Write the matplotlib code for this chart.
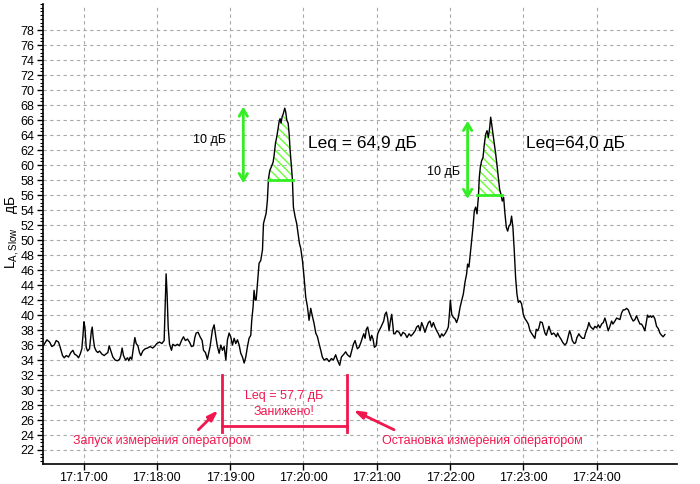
import numpy as np
import matplotlib
matplotlib.use('Agg')
import matplotlib.pyplot as plt
from matplotlib.ticker import FuncFormatter, MultipleLocator

plt.rcParams['font.family'] = ['Liberation Sans', 'DejaVu Sans']
plt.rcParams['hatch.linewidth'] = 1.0

# time in seconds after 17:17:00, level in dB
t_sec = [
    -35.5, -34.1, -32.2, -30.0, -27.8, -25.9, -24.0, -22.4, -20.5, -19.1,
    -17.2, -15.8, -14.2, -12.3, -10.4, -8.7, -7.4, -5.5, -4.1, -2.7,
    -1.4, -0.5, 0.3, 1.1, 2.2, 3.3, 4.9, 6.3, 7.1, 7.9,
    9.0, 10.4, 11.7, 13.1, 15.0, 16.9, 18.3, 19.9, 21.0, 22.4,
    24.0, 25.9, 27.8, 29.5, 30.5, 31.6, 32.7, 34.4, 36.0, 37.1,
    38.2, 39.5, 40.9, 42.0, 43.1, 44.5, 45.8, 46.9, 48.5, 50.4,
    52.4, 54.5, 56.7, 58.6, 60.0, 62.2, 64.1, 66.0, 66.8, 67.6,
    68.4, 69.3, 70.4, 72.0, 73.1, 75.0, 76.9, 78.5, 80.2, 81.8,
    83.4, 85.1, 86.7, 88.4, 90.0, 91.1, 92.2, 93.8, 95.4, 97.1,
    98.2, 99.8, 101.4,
    103.6, 105.5, 106.9, 108.3, 109.6, 111.0, 112.4, 113.7, 115.1, 116.5,
    117.8, 119.2, 120.5, 121.9, 123.3, 124.6, 126.0, 127.4, 128.7, 130.1,
    131.5, 132.8, 134.2, 135.5, 136.9, 137.7, 138.8, 139.6, 140.5, 141.3,
    142.4, 143.7, 145.1, 146.5, 147.3, 148.4, 149.5, 150.5, 151.4, 152.5,
    153.8, 155.2, 156.0, 157.1, 158.2, 159.3, 160.1, 160.9, 161.7, 162.5,
    163.6, 164.7, 165.5, 166.4, 167.5, 168.3, 169.1, 170.2, 171.0, 171.8,
    173.2, 174.5, 175.6, 176.7, 177.8, 179.2, 180.5, 181.9, 183.3, 184.6,
    186.0, 187.4, 188.7, 190.1, 191.5, 192.8, 194.2, 195.5, 196.9, 199.1,
    201.0, 202.9, 204.5, 206.4, 207.8, 209.7, 211.1, 212.7, 214.6, 216.0,
    218.2,
    220.9, 222.3, 223.4, 224.2, 225.5, 227.2, 228.3, 229.4, 230.5, 231.5,
    232.6, 233.7, 234.8, 235.9, 237.0, 238.1, 239.5, 240.8, 241.9, 243.5,
    244.6, 245.7, 246.8, 247.9, 249.0, 250.1, 251.2, 252.3, 253.1, 253.9,
    255.0, 256.4, 258.3, 259.9, 261.5, 263.2, 264.8, 266.5, 268.1, 269.7,
    271.4, 272.7, 274.1, 275.5, 276.8, 278.2, 279.5, 280.9, 282.3, 283.6,
    285.0, 286.4, 287.7, 289.1, 290.5, 291.8, 293.2, 294.5, 295.9, 297.3,
    298.6, 299.5, 300.3, 301.4, 302.7, 304.1, 305.4, 306.8, 308.2, 309.5,
    310.9, 312.3, 313.6, 314.4, 315.5, 316.6, 317.7, 318.8, 319.9, 321.0,
    322.1, 323.2, 324.0, 324.8, 325.9, 327.0, 328.1, 329.2, 330.3, 331.4,
    332.5, 333.3, 334.1, 335.2, 336.3, 337.4, 338.4, 339.5, 340.6, 341.7,
    342.8, 343.9, 345.0, 346.1, 347.2, 348.3, 349.4, 350.4, 351.5, 352.6,
    353.7, 354.8, 355.9, 357.3, 358.6, 360.0, 361.4, 362.7, 364.1, 365.5,
    368.2, 369.5, 370.6, 371.7, 372.8, 373.9, 375.5, 376.6, 377.7, 378.8,
    379.9, 381.0, 382.1, 383.2, 384.8, 385.9, 387.0, 388.1, 389.2, 390.8,
    392.5, 394.1, 395.5, 396.8, 397.9, 399.0, 400.1, 401.7, 402.8, 403.9,
    405.5, 406.6, 408.3, 409.9, 411.0, 412.6, 413.7, 414.8, 415.9, 417.3,
    418.6, 420.0, 421.4, 422.7, 424.1, 425.5, 426.8, 427.9, 429.5, 430.9,
    432.3, 433.4, 435.0, 436.4, 437.7, 439.1, 440.5, 441.8, 443.2, 444.5,
    445.9, 447.3, 448.6, 450.0, 451.4, 452.7, 454.1, 455.5, 456.8, 458.2,
    459.5, 460.9, 461.7, 462.8, 463.9, 465.0, 466.4, 467.7, 469.1, 470.5,
    471.8, 473.2, 474.5, 475.9,
]
level_db = [
    35.9, 35.5, 36.1, 36.7, 36.4, 35.8, 36.0, 36.6, 36.4, 35.7,
    34.6, 34.3, 34.6, 34.4, 35.0, 35.3, 34.8, 34.6, 34.3, 34.8,
    35.5, 37.2, 39.1, 38.4, 35.7, 35.2, 35.5, 37.7, 38.4, 37.0,
    35.7, 35.2, 35.0, 35.2, 34.8, 34.6, 34.8, 35.0, 35.9, 35.2,
    34.4, 34.0, 33.9, 34.1, 34.6, 35.6, 34.6, 34.0, 34.3, 33.9,
    34.4, 34.1, 35.7, 37.0, 36.2, 35.9, 35.0, 34.6, 35.2, 35.5,
    35.6, 35.8, 35.6, 35.9, 36.2, 36.4, 36.2, 36.6, 41.0, 45.5,
    42.8, 38.4, 36.1, 35.3, 36.1, 35.9, 36.1, 35.9, 36.6, 37.1,
    36.6, 36.8, 36.4, 35.8, 35.9, 37.0, 37.6, 37.7, 37.1, 36.6,
    35.3, 35.0, 34.1,
    35.8, 38.0, 38.7, 37.1, 35.8, 34.9, 36.0, 35.3, 35.8, 34.0,
    36.7, 37.6, 37.1, 36.0, 36.9, 36.2, 36.7, 36.0, 34.9, 34.4,
    33.6, 34.4, 35.8, 36.9, 37.3, 39.3, 41.1, 43.3, 42.0, 42.0,
    44.2, 46.9, 47.3, 48.7, 52.2, 52.9, 53.6, 55.3, 58.2, 59.3,
    59.8, 60.4, 61.3, 62.9, 63.8, 64.9, 65.8, 66.2, 65.6, 66.4,
    66.9, 67.6, 67.1, 66.0, 65.6, 64.2, 62.0, 59.8, 58.0, 54.4,
    53.1, 52.2, 50.9, 49.6, 48.9, 47.3, 45.1, 42.4, 41.1, 39.3,
    40.9, 39.8, 38.9, 37.6, 37.1, 36.2, 35.3, 34.4, 34.0, 34.2,
    33.8, 34.2, 34.0, 34.7, 34.0, 33.3, 34.4, 34.7, 35.1, 34.7,
    34.4,
    36.1, 36.6, 35.9, 35.5, 35.7, 36.4, 37.0, 37.5, 36.9, 38.1,
    38.4, 37.5, 36.6, 37.3, 36.8, 35.7, 35.9, 37.5, 37.9, 38.4,
    38.8, 39.2, 40.1, 40.4, 39.5, 37.9, 39.2, 40.1, 38.8, 37.5,
    37.5, 37.9, 37.7, 37.2, 37.7, 37.5, 37.0, 37.5, 37.2, 37.5,
    37.9, 38.4, 38.6, 37.9, 39.0, 38.4, 37.7, 38.4, 39.0, 39.2,
    38.4, 39.0, 38.4, 37.9, 37.5, 37.0, 37.5, 37.2, 37.5, 37.9,
    38.4, 40.1, 42.0, 40.1, 39.7, 39.5, 39.0, 39.7, 41.0, 41.9,
    42.8, 44.4, 45.5, 46.8, 46.4, 48.1, 49.9, 51.7, 53.9, 54.4,
    53.5, 55.7, 58.4, 59.7, 60.6, 61.0, 62.8, 64.1, 64.6, 63.7,
    65.0, 66.4, 65.5, 64.1, 62.8, 61.5, 60.1, 58.4, 56.8, 56.1,
    55.2, 55.7, 53.5, 51.7, 51.2, 51.9, 52.1, 53.2, 51.7, 48.6,
    45.0, 42.8, 41.7, 41.9, 41.5, 40.1, 39.5, 39.2, 38.8, 37.9,
    37.2, 36.9, 38.1, 37.9, 38.3, 39.1, 39.0, 38.3, 37.6, 37.3,
    37.9, 38.5, 37.9, 37.4, 37.6, 37.4, 37.1, 37.6, 37.2, 36.8,
    36.3, 36.0, 36.3, 37.2, 37.9, 37.4, 36.6, 36.2, 36.3, 37.0,
    37.5, 37.2, 36.9, 36.9, 37.6, 38.3, 39.0, 38.5, 38.3, 38.1,
    38.5, 38.3, 38.7, 38.3, 38.8, 39.0, 39.6, 39.0, 37.9, 38.5,
    39.2, 38.8, 39.2, 39.6, 39.5, 39.4, 40.3, 40.7, 40.7, 40.9,
    40.7, 40.1, 39.6, 39.2, 39.4, 39.9, 39.3, 38.8, 38.8, 38.4,
    37.9, 39.2, 40.0, 39.7, 39.9, 39.7, 39.9, 39.5, 38.5, 38.2,
    37.6, 37.3, 37.1, 37.4,
]

# peak marking: 10 dB below maximum
peak1_range = (151.0, 171.5)
peak1_base = 58
peak2_range = (321.8, 342.8)
peak2_base = 56

x_ticks = [0, 60, 120, 180, 240, 300, 360, 420]
start_sec = 17 * 3600 + 17 * 60


def hms(x, pos):
    s = start_sec + int(round(x))
    return '%02d:%02d:%02d' % (s // 3600, (s // 60) % 60, s % 60)


t = np.array(t_sec)
v = np.array(level_db)

fig = plt.figure(figsize=(7.0, 4.84), dpi=100)
ax = fig.add_axes([0.0614, 0.0413, 0.9057, 0.9505])

ax.plot(t, v, color='black', lw=1.0, zorder=3)

green = '#33ee22'
hatch_green = '#66ff33'
for (a, b), base in [(peak1_range, peak1_base), (peak2_range, peak2_base)]:
    m = (t >= a - 1) & (t <= b + 1)
    ax.fill_between(t[m], base, v[m], where=v[m] >= base, interpolate=True,
                    facecolor='none', edgecolor=hatch_green, hatch='\\\\\\\\',
                    lw=0, zorder=2)
    ax.plot([a, b], [base, base], color=green, lw=2, zorder=4)

# 10 dB arrows
ax.annotate('', xy=(130.8, 67.8), xytext=(130.8, 57.6),
            arrowprops=dict(arrowstyle='<->,head_length=0.5,head_width=0.3',
                            color=green, lw=2, shrinkA=0, shrinkB=0))
ax.annotate('', xy=(314.4, 65.9), xytext=(314.4, 55.5),
            arrowprops=dict(arrowstyle='<->,head_length=0.5,head_width=0.3',
                            color=green, lw=2, shrinkA=0, shrinkB=0))
ax.text(116.6, 63.3, '10 дБ', ha='right', va='center', fontsize=9)
ax.text(308.2, 59.1, '10 дБ', ha='right', va='center', fontsize=9)
ax.text(183.8, 62.9, 'Leq = 64,9 дБ', ha='left', va='center', fontsize=12.5)
ax.text(362.2, 62.9, 'Leq=64,0 дБ', ha='left', va='center', fontsize=12.5)

# operator start / stop
red = '#f0174f'
ax.plot([113.6, 113.6], [32.0, 24.4], color=red, lw=2, zorder=4)
ax.plot([215.4, 215.4], [32.0, 24.4], color=red, lw=2, zorder=4)
ax.plot([113.6, 215.4], [25.2, 25.2], color=red, lw=2, zorder=4)
ax.text(164.5, 29.2, 'Leq = 57,7 дБ', color=red, ha='center', va='center', fontsize=9)
ax.text(164.5, 27.1, 'Занижено!', color=red, ha='center', va='center', fontsize=9)
ax.annotate('', xy=(110.3, 27.3), xytext=(94.0, 24.7),
            arrowprops=dict(arrowstyle='-|>,head_length=0.6,head_width=0.2',
                            color=red, lw=2, shrinkA=0, shrinkB=0))
ax.annotate('', xy=(220.9, 27.3), xytext=(254.2, 24.7),
            arrowprops=dict(arrowstyle='-|>,head_length=0.6,head_width=0.2',
                            color=red, lw=2, shrinkA=0, shrinkB=0))
ax.text(-8.6, 23.2, 'Запуск измерения оператором', color=red,
        ha='left', va='center', fontsize=9)
ax.text(244.3, 23.2, 'Остановка измерения оператором', color=red,
        ha='left', va='center', fontsize=9)

ax.set_xlim(-33.2, 485.8)
ax.set_ylim(20.13, 81.5)
ax.set_xticks(x_ticks)
ax.xaxis.set_major_formatter(FuncFormatter(hms))
ax.set_yticks(np.arange(22, 80, 2))
ax.yaxis.set_minor_locator(MultipleLocator(0.5))
ax.tick_params(axis='both', direction='out', length=4, width=1, labelsize=9, pad=2)
ax.tick_params(axis='y', which='minor', direction='out', length=2, width=0.8)
ax.grid(True, color='#a8a8a8', linestyle=(0, (3, 3)), lw=0.8)
ax.set_axisbelow(True)
for s in ['top', 'right']:
    ax.spines[s].set_visible(False)
ax.spines['left'].set_linewidth(1.2)
ax.spines['bottom'].set_linewidth(1.2)

fig.text(0.017, 0.52, r'L$_{\mathregular{A,Slow}}$    дБ', rotation=90,
         ha='center', va='center', fontsize=10)

fig.savefig('out.png', dpi=100)
